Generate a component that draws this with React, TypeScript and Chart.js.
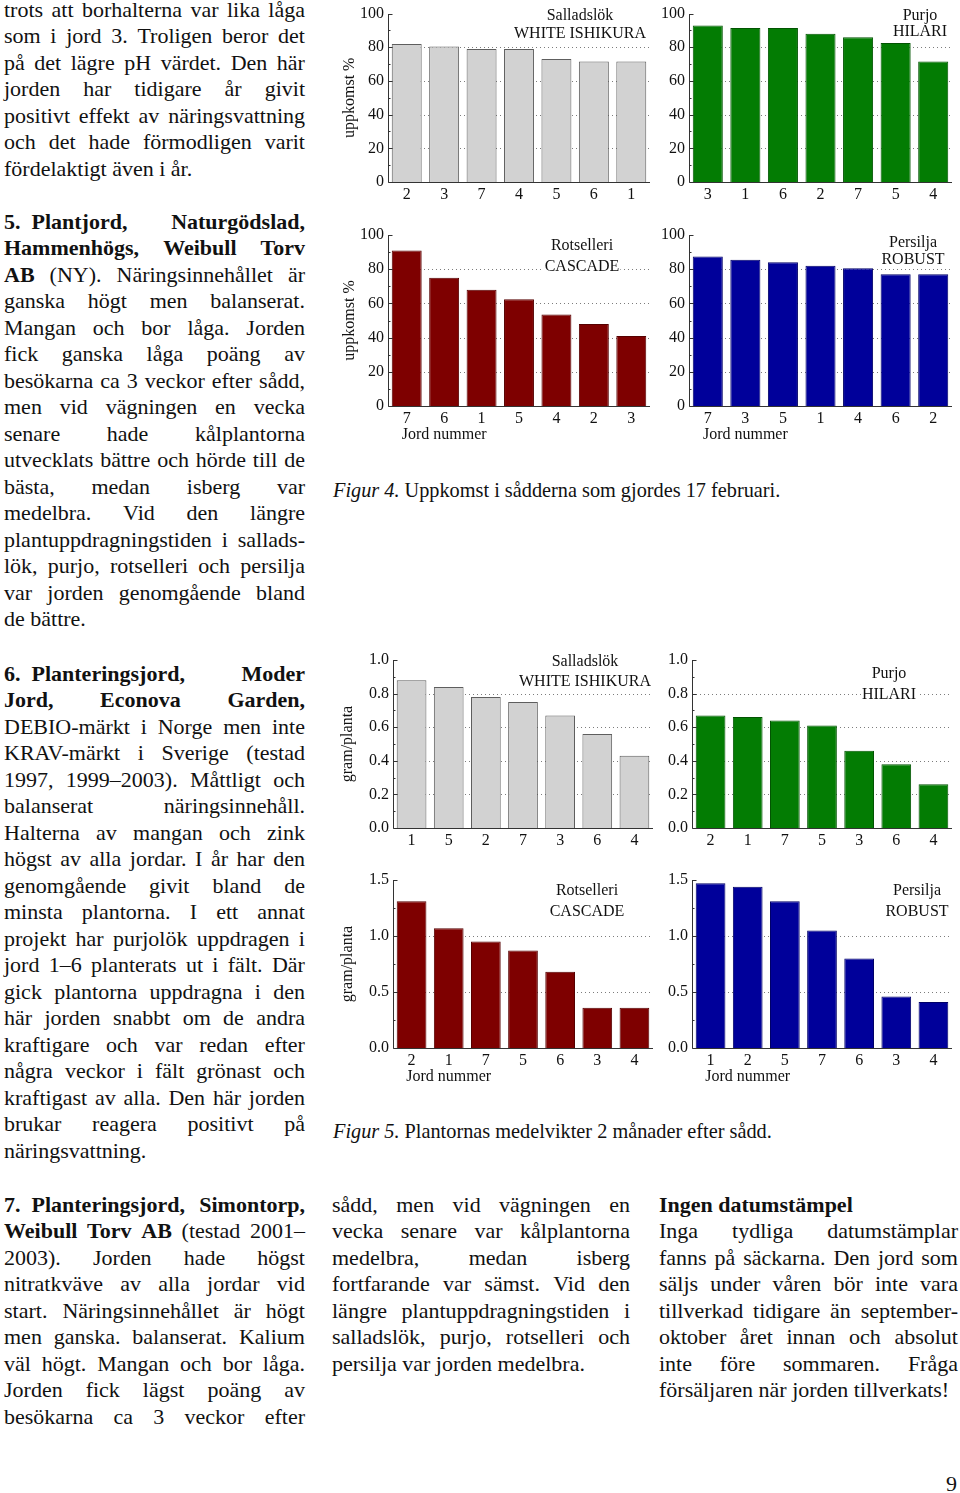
import React, { useEffect, useRef } from 'react';
import { Chart, registerables } from 'chart.js';

Chart.register(...registerables);

const SERIF = '"Liberation Serif", "Times New Roman", Times, serif';

// ---------- Figur 4: uppkomst % ----------
const emergenceSalladLabels = ['2', '3', '7', '4', '5', '6', '1'];
const emergenceSalladValues = [82, 80.5, 79, 79, 73, 71.5, 71.5];
const emergencePurjoLabels = ['3', '1', '6', '2', '7', '5', '4'];
const emergencePurjoValues = [93, 91.5, 91.5, 88, 86, 82.5, 71.5];
const emergenceSelleriLabels = ['7', '6', '1', '5', '4', '2', '3'];
const emergenceSelleriValues = [91, 75, 68, 62.5, 53.5, 48, 41];
const emergencePersiljaLabels = ['7', '3', '5', '1', '4', '6', '2'];
const emergencePersiljaValues = [87.5, 85.5, 84, 82, 80.5, 77, 77];

// ---------- Figur 5: gram/planta ----------
const weightSalladLabels = ['1', '5', '2', '7', '3', '6', '4'];
const weightSalladValues = [0.88, 0.84, 0.78, 0.75, 0.67, 0.56, 0.43];
const weightPurjoLabels = ['2', '1', '7', '5', '3', '6', '4'];
const weightPurjoValues = [0.67, 0.66, 0.64, 0.61, 0.46, 0.38, 0.26];
const weightSelleriLabels = ['2', '1', '7', '5', '6', '3', '4'];
const weightSelleriValues = [1.31, 1.07, 0.95, 0.87, 0.68, 0.36, 0.36];
const weightPersiljaLabels = ['1', '2', '5', '7', '6', '3', '4'];
const weightPersiljaValues = [1.47, 1.44, 1.31, 1.05, 0.8, 0.46, 0.41];

// ---------- tick labels ----------
const emergenceTicks = [0, 20, 40, 60, 80, 100];
const weightTicksSmall = [0, 0.2, 0.4, 0.6, 0.8, 1.0];
const weightTicksLarge = [0, 0.5, 1.0, 1.5];

const cropSallad = ['Salladslök', 'WHITE ISHIKURA'];
const cropPurjo = ['Purjo', 'HILARI'];
const cropSelleri = ['Rotselleri', 'CASCADE'];
const cropPersilja = ['Persilja', 'ROBUST'];

const GRAY = { fill: '#d2d2d2', edge: '#5e5e5e' };
const GREEN = { fill: '#037c03', edge: '#025402' };
const RED = { fill: '#7e0000', edge: '#560000' };
const BLUE = { fill: '#00009a', edge: '#000068' };

type Spec = {
  labels: string[];
  values: number[];
  ticks: number[];
  decimals: number;
  color: { fill: string; edge: string };
  crop: string[];
  cropPos: [number, number, number];
  yTitle?: string;
  yTitleX?: number;
  xTitle?: string;
  box: [number, number, number, number];
  area: [number, number, number, number];
};

const specs: Spec[] = [
  {
    labels: emergenceSalladLabels, values: emergenceSalladValues, ticks: emergenceTicks, decimals: 0,
    color: GRAY, crop: cropSallad, cropPos: [580, 15, 33], yTitle: 'uppkomst %', yTitleX: 350,
    box: [330, 0, 325, 210], area: [388, 12, 650, 182],
  },
  {
    labels: emergencePurjoLabels, values: emergencePurjoValues, ticks: emergenceTicks, decimals: 0,
    color: GREEN, crop: cropPurjo, cropPos: [920, 15, 31],
    box: [655, 0, 305, 210], area: [689, 12, 952, 182],
  },
  {
    labels: emergenceSelleriLabels, values: emergenceSelleriValues, ticks: emergenceTicks, decimals: 0,
    color: RED, crop: cropSelleri, cropPos: [582, 245, 266], yTitle: 'uppkomst %', yTitleX: 350, xTitle: 'Jord nummer',
    box: [330, 220, 325, 230], area: [388, 235, 650, 406],
  },
  {
    labels: emergencePersiljaLabels, values: emergencePersiljaValues, ticks: emergenceTicks, decimals: 0,
    color: BLUE, crop: cropPersilja, cropPos: [913, 242, 259], xTitle: 'Jord nummer',
    box: [655, 220, 305, 230], area: [689, 235, 952, 406],
  },
  {
    labels: weightSalladLabels, values: weightSalladValues, ticks: weightTicksSmall, decimals: 1,
    color: GRAY, crop: cropSallad, cropPos: [585, 661, 681], yTitle: 'gram/planta', yTitleX: 348,
    box: [330, 645, 325, 210], area: [393, 660, 653, 828],
  },
  {
    labels: weightPurjoLabels, values: weightPurjoValues, ticks: weightTicksSmall, decimals: 1,
    color: GREEN, crop: cropPurjo, cropPos: [889, 673, 694],
    box: [655, 645, 305, 210], area: [692, 660, 952, 828],
  },
  {
    labels: weightSelleriLabels, values: weightSelleriValues, ticks: weightTicksLarge, decimals: 1,
    color: RED, crop: cropSelleri, cropPos: [587, 890, 911], yTitle: 'gram/planta', yTitleX: 348, xTitle: 'Jord nummer',
    box: [330, 865, 325, 230], area: [393, 880, 653, 1048],
  },
  {
    labels: weightPersiljaLabels, values: weightPersiljaValues, ticks: weightTicksLarge, decimals: 1,
    color: BLUE, crop: cropPersilja, cropPos: [917, 890, 911], xTitle: 'Jord nummer',
    box: [655, 865, 305, 230], area: [692, 880, 952, 1048],
  },
];

function makeDecor(spec: Spec) {
  const [cl, ct] = spec.box;
  return {
    id: 'decor',
    beforeDatasetsDraw(chart: any) {
      const { ctx, chartArea: a, scales } = chart;
      const y = scales.y;
      ctx.save();
      ctx.strokeStyle = '#7c7c7c';
      ctx.lineWidth = 1;
      ctx.setLineDash([1, 3]);
      for (const v of spec.ticks.slice(1, -1)) {
        const py = Math.round(y.getPixelForValue(v)) + 0.5;
        ctx.beginPath();
        ctx.moveTo(a.left, py);
        ctx.lineTo(a.right, py);
        ctx.stroke();
      }
      ctx.setLineDash([]);
      ctx.font = `16px ${SERIF}`;
      ctx.textAlign = 'center';
      ctx.textBaseline = 'middle';
      const [px, y1, y2] = spec.cropPos;
      const rows: [string, number][] = [[spec.crop[0], y1], [spec.crop[1], y2]];
      rows.forEach(([t, py]) => {
        const w = ctx.measureText(t).width;
        ctx.fillStyle = '#ffffff';
        ctx.fillRect(px - cl - w / 2 - 1, py - ct - 6, w + 2, 13);
        ctx.fillStyle = '#111111';
        ctx.fillText(t, px - cl, py - ct + 1);
      });
      ctx.restore();
    },
    afterDatasetsDraw(chart: any) {
      const { ctx, chartArea: a, scales } = chart;
      const x = scales.x;
      const y = scales.y;
      ctx.save();
      ctx.strokeStyle = '#333333';
      ctx.lineWidth = 1;
      const lx = Math.round(a.left) + 0.5;
      const by = Math.round(a.bottom) + 0.5;
      ctx.beginPath();
      ctx.moveTo(lx, Math.round(a.top));
      ctx.lineTo(lx, by);
      ctx.lineTo(a.right, by);
      ctx.stroke();
      const t = spec.ticks;
      t.forEach((v) => {
        const py = Math.round(y.getPixelForValue(v)) + 0.5;
        ctx.beginPath();
        ctx.moveTo(lx, py);
        ctx.lineTo(lx + 4, py);
        ctx.stroke();
      });
      for (let i = 0; i < t.length - 1; i++) {
        const py = Math.round(y.getPixelForValue((t[i] + t[i + 1]) / 2)) + 0.5;
        ctx.beginPath();
        ctx.moveTo(lx, py);
        ctx.lineTo(lx + 2, py);
        ctx.stroke();
      }
      ctx.fillStyle = '#111111';
      ctx.font = `16px ${SERIF}`;
      ctx.textAlign = 'center';
      ctx.textBaseline = 'middle';
      if (spec.yTitle) {
        ctx.save();
        ctx.translate((spec.yTitleX || 350) - cl, (a.top + a.bottom) / 2);
        ctx.rotate(-Math.PI / 2);
        ctx.fillText(spec.yTitle, 0, 0);
        ctx.restore();
      }
      if (spec.xTitle) {
        ctx.fillText(spec.xTitle, x.getPixelForValue(1), a.bottom + 29);
      }
      ctx.restore();
    },
  };
}

function BarPanel({ spec }: { spec: Spec }) {
  const ref = useRef<HTMLCanvasElement>(null);
  const [cl, ct, cw, ch] = spec.box;
  useEffect(() => {
    const [al, at, ar, ab] = spec.area;
    const chart = new Chart(ref.current as HTMLCanvasElement, {
      type: 'bar',
      data: {
        labels: spec.labels,
        datasets: [
          {
            data: spec.values,
            backgroundColor: spec.color.fill,
            borderColor: spec.color.edge,
            borderWidth: 1,
            barPercentage: 0.8,
            categoryPercentage: 1,
          },
        ],
      },
      options: {
        responsive: false,
        maintainAspectRatio: false,
        animation: false,
        devicePixelRatio: 1,
        layout: { padding: { top: at - ct, right: cl + cw - ar, left: 0, bottom: 0 } },
        plugins: { legend: { display: false }, tooltip: { enabled: false }, title: { display: false } },
        scales: {
          x: {
            grid: { display: false, drawTicks: false },
            border: { display: false },
            ticks: { color: '#111', font: { family: SERIF, size: 16 }, padding: 3, maxRotation: 0, autoSkip: false },
            afterFit: (s: any) => {
              s.height = ct + ch - ab;
            },
          },
          y: {
            min: spec.ticks[0],
            max: spec.ticks[spec.ticks.length - 1],
            grid: { display: false, drawTicks: false },
            border: { display: false },
            ticks: {
              color: '#111',
              font: { family: SERIF, size: 16 },
              padding: 4,
              callback: (v: any) => Number(v).toFixed(spec.decimals),
            },
            afterBuildTicks: (s: any) => {
              s.ticks = spec.ticks.map((v) => ({ value: v }));
            },
            afterFit: (s: any) => {
              s.width = al - cl;
            },
          },
        },
      } as any,
      plugins: [makeDecor(spec) as any],
    });
    return () => chart.destroy();
  }, []);
  return (
    <canvas
      ref={ref}
      width={cw}
      height={ch}
      style={{ position: 'absolute', left: cl, top: ct, width: cw, height: ch }}
    />
  );
}

// ---------- body text ----------
const LH = 26.5;
const FS = 22;

type Block = { left: number; top: number; width: number; lines: string[] };

const textBlocks: Block[] = [
  {
    left: 4, top: -3.4, width: 301,
    lines: [
      'trots att borhalterna var lika låga',
      'som i jord 3. Troligen beror det',
      'på det lägre pH värdet. Den här',
      'jorden har tidigare år givit',
      'positivt effekt av näringsvattning',
      'och det hade förmodligen varit',
      '=fördelaktigt även i år.',
    ],
  },
  {
    left: 4, top: 208.6, width: 301,
    lines: [
      '**5.\u2002Plantjord, Naturgödslad,**',
      '**Hammenhögs, Weibull Torv**',
      '**AB** (NY). Näringsinnehållet är',
      'ganska högt men balanserat.',
      'Mangan och bor låga. Jorden',
      'fick ganska låga poäng av',
      'besökarna ca 3 veckor efter sådd,',
      'men vid vägningen en vecka',
      'senare hade kålplantorna',
      'utvecklats bättre och hörde till de',
      'bästa, medan isberg var',
      'medelbra. Vid den längre',
      'plantuppdragningstiden i sallads-',
      'lök, purjo, rotselleri och persilja',
      'var jorden genomgående bland',
      '=de bättre.',
    ],
  },
  {
    left: 4, top: 660.6, width: 301,
    lines: [
      '**6.\u2002Planteringsjord, Moder**',
      '**Jord, Econova Garden,**',
      'DEBIO-märkt i Norge men inte',
      'KRAV-märkt i Sverige (testad',
      '1997, 1999–2003). Måttligt och',
      'balanserat näringsinnehåll.',
      'Halterna av mangan och zink',
      'högst av alla jordar. I år har den',
      'genomgående givit bland de',
      'minsta plantorna. I ett annat',
      'projekt har purjolök uppdragen i',
      'jord 1–6 planterats ut i fält. Där',
      'gick plantorna uppdragna i den',
      'här jorden snabbt om de andra',
      'kraftigare och var redan efter',
      'några veckor i fält grönast och',
      'kraftigast av alla. Den här jorden',
      'brukar reagera positivt på',
      '=näringsvattning.',
    ],
  },
  {
    left: 4, top: 1191.6, width: 301,
    lines: [
      '**7.\u2002Planteringsjord, Simontorp,**',
      '**Weibull Torv AB** (testad 2001–',
      '2003). Jorden hade högst',
      'nitratkväve av alla jordar vid',
      'start. Näringsinnehållet är högt',
      'men ganska. balanserat. Kalium',
      'väl högt. Mangan och bor låga.',
      'Jorden fick lägst poäng av',
      'besökarna ca 3 veckor efter',
    ],
  },
  {
    left: 332, top: 1191.6, width: 298,
    lines: [
      'sådd, men vid vägningen en',
      'vecka senare var kålplantorna',
      'medelbra, medan isberg',
      'fortfarande var sämst. Vid den',
      'längre plantuppdragningstiden i',
      'salladslök, purjo, rotselleri och',
      '=persilja var jorden medelbra.',
    ],
  },
  {
    left: 659, top: 1191.6, width: 299,
    lines: [
      '=**Ingen datumstämpel**',
      'Inga tydliga datumstämplar',
      'fanns på säckarna. Den jord som',
      'säljs under våren bör inte vara',
      'tillverkad tidigare än september-',
      'oktober året innan och absolut',
      'inte före sommaren. Fråga',
      '=försäljaren när jorden tillverkats!',
    ],
  },
];

function words(text: string) {
  const tokens = text.split(' ');
  let bold = false;
  return tokens.map((tok) => {
    let t = tok;
    if (t.startsWith('**')) {
      t = t.slice(2);
      bold = true;
    }
    const b = bold;
    if (t.endsWith('**')) {
      t = t.slice(0, -2);
      bold = false;
    }
    return { t, b };
  });
}

function TextLine({ raw }: { raw: string }) {
  const plain = raw.startsWith('=');
  const text = plain ? raw.slice(1) : raw;
  const ws = words(text);
  const base: React.CSSProperties = { height: LH, lineHeight: `${LH}px`, whiteSpace: 'pre' };
  if (plain) {
    return (
      <div style={base}>
        {ws.map((w, i) => (
          <span key={i} style={{ fontWeight: w.b ? 'bold' : 'normal' }}>
            {(i > 0 ? ' ' : '') + w.t}
          </span>
        ))}
      </div>
    );
  }
  return (
    <div style={{ ...base, display: 'flex', justifyContent: 'space-between' }}>
      {ws.map((w, i) => (
        <span key={i} style={{ fontWeight: w.b ? 'bold' : 'normal' }}>
          {w.t}
        </span>
      ))}
    </div>
  );
}

function TextBlock({ block }: { block: Block }) {
  return (
    <div
      style={{
        position: 'absolute',
        left: block.left,
        top: block.top,
        width: block.width,
        fontFamily: SERIF,
        fontSize: FS,
        color: '#111',
      }}
    >
      {block.lines.map((l, i) => (
        <TextLine key={i} raw={l} />
      ))}
    </div>
  );
}

const captionStyle: React.CSSProperties = {
  position: 'absolute',
  left: 333,
  fontFamily: SERIF,
  fontSize: 20.3,
  lineHeight: '26.5px',
  color: '#111',
  whiteSpace: 'pre',
};

export default function App() {
  return (
    <div
      style={{
        position: 'absolute',
        left: 0,
        top: 0,
        width: 960,
        height: 1493,
        background: '#fff',
        overflow: 'hidden',
      }}
    >
      {textBlocks.map((b, i) => (
        <TextBlock key={i} block={b} />
      ))}
      {specs.map((s, i) => (
        <BarPanel key={i} spec={s} />
      ))}
      <div style={{ ...captionStyle, top: 477 }}>
        <i>Figur 4.</i> Uppkomst i sådderna som gjordes 17 februari.
      </div>
      <div style={{ ...captionStyle, top: 1118 }}>
        <i>Figur 5.</i> Plantornas medelvikter 2 månader efter sådd.
      </div>
      <div
        style={{
          position: 'absolute',
          left: 946,
          top: 1471,
          fontFamily: SERIF,
          fontSize: FS,
          lineHeight: '26.5px',
          color: '#111',
        }}
      >
        9
      </div>
    </div>
  );
}
